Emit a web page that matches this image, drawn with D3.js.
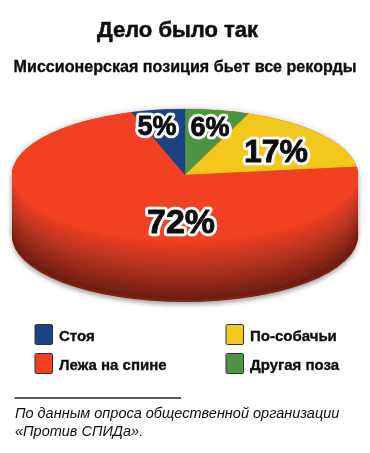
<!DOCTYPE html>
<html><head><meta charset="utf-8">
<script src="https://cdn.jsdelivr.net/npm/d3@7"></script>
<style>html,body{margin:0;padding:0;background:#fff}svg{display:block}text{font-family:"Liberation Sans",Arial,sans-serif}</style>
</head><body><svg id="c" width="370" height="453"></svg>
<script>
const categories=["Другая поза","По-собачьи","Лежа на спине","Стоя"];
const values=[6,17,72,5];
const colors=["#4f9443","#f3c81d","#f24120","#1d4384"];
const labels=["6%","17%","72%","5%"];
const legendOrder=["Стоя","Лежа на спине","По-собачьи","Другая поза"];
const title="Дело было так";
const subtitle="Миссионерская позиция бьет все рекорды";
const noteLines=["По данным опроса общественной организации","«Против СПИДа»."];

const svg=d3.select("#c");
const cx=185,cy=175,rx=173,ry=66,depth=61;
const defs=svg.append("defs");
const blur=(id,s)=>defs.append("filter").attr("id",id).attr("filterUnits","userSpaceOnUse").attr("x",0).attr("y",0).attr("width",370).attr("height",453).append("feGaussianBlur").attr("stdDeviation",s);
blur("soft",.4);blur("halo",2.2);
const root=svg.append("g").attr("filter","url(#soft)");

root.append("text").attr("x",177.5).attr("y",37).attr("text-anchor","middle").attr("font-size",22).attr("font-weight",700).attr("fill","#0a0a0a").attr("stroke","#0a0a0a").attr("stroke-width",.5).text(title);
root.append("text").attr("x",185).attr("y",72).attr("text-anchor","middle").attr("font-size",16.1).attr("font-weight",700).attr("fill","#0a0a0a").attr("stroke","#0a0a0a").attr("stroke-width",.3).text(subtitle);

root.append("ellipse").attr("cx",cx).attr("cy",cy+depth+3).attr("rx",rx).attr("ry",ry).attr("fill","#888").attr("opacity",.7).attr("filter","url(#halo)");
root.append("rect").attr("x",cx-rx-1.5).attr("y",cy).attr("width",2*rx+3).attr("height",depth).attr("fill","#aaa").attr("opacity",.7).attr("filter","url(#halo)");
root.append("ellipse").attr("cx",cx).attr("cy",cy-1).attr("rx",rx+1).attr("ry",ry+1).attr("fill","#ccc").attr("opacity",.6).attr("filter","url(#halo)");

const wallColor=d3.scaleLinear().domain([0,5,24,46,58,61]).range(["#ee4120","#e33e20","#ba3624","#8a2818","#6e1f12","#8a2614"]);
const layers=d3.range(depth,-.5,-.5);
root.selectAll("rect.wall").data(layers).join("rect").attr("class","wall")
  .attr("x",cx-rx).attr("y",d=>cy+d-ry).attr("width",2*rx).attr("height",2*ry).attr("rx",rx).attr("ry",ry).attr("fill",d=>wallColor(d));

const pie=d3.pie().sort(null).value(d=>d)(values);
const arc=d3.arc().innerRadius(0).outerRadius(rx);
const face=root.append("g").attr("transform",`translate(${cx},${cy}) scale(1,${ry/rx})`);
face.selectAll("path").data(pie).join("path").attr("d",arc).attr("fill",(d,i)=>colors[i]).attr("stroke",(d,i)=>colors[i]).attr("stroke-width",.4);

const labelPos=[[210,126,27],[276,150,32],[181,221,34],[157,125,27]];
const vt=sel=>sel.attr("x",(d,i)=>labelPos[i][0]).attr("y",(d,i)=>labelPos[i][1]).attr("dy",".36em").attr("text-anchor","middle").attr("font-size",(d,i)=>labelPos[i][2]).attr("font-weight",700).text(d=>d);
root.selectAll("text.h").data(labels).join("text").attr("class","h").call(vt).attr("fill","#fff").attr("stroke","#fff").attr("stroke-width",6.5).attr("stroke-linejoin","round");
root.selectAll("text.v").data(labels).join("text").attr("class","v").call(vt).attr("fill","#0a0a0a").attr("stroke","#0a0a0a").attr("stroke-width",.8).attr("stroke-linejoin","round");

const lx=d3.scalePoint().domain([0,1]).range([35,226]);
const ly=d3.scalePoint().domain([0,1]).range([335,364]);
legendOrder.forEach((name,k)=>{
  const col=k<2?0:1,row=k%2,i=categories.indexOf(name);
  root.append("rect").attr("x",lx(col)).attr("y",ly(row)-10.5).attr("width",17.5).attr("height",20).attr("rx",1.5).attr("fill",colors[i]).attr("stroke","#333").attr("stroke-width",1);
  root.append("text").attr("x",lx(col)+24).attr("y",ly(row)+6).attr("font-size",15).attr("font-weight",700).attr("fill","#0a0a0a").attr("stroke","#0a0a0a").attr("stroke-width",.3).text(name);
});
root.append("line").attr("x1",14.5).attr("x2",181).attr("y1",398).attr("y2",398).attr("stroke","#222").attr("stroke-width",1.6);
root.selectAll("text.n").data(noteLines).join("text").attr("class","n").attr("x",15).attr("y",(d,i)=>418+i*17.7).attr("font-size",14.5).attr("font-style","italic").attr("fill","#111").text(d=>d);
</script></body></html>
